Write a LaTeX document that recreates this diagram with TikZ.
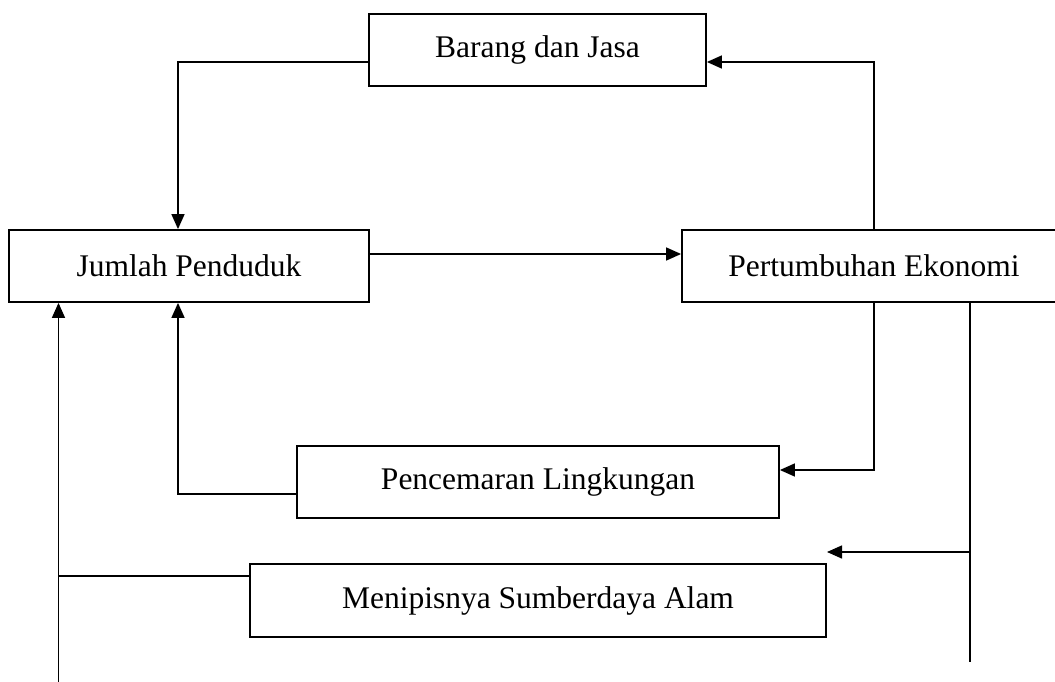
\documentclass[tikz,border=0pt]{standalone}
\usepackage{fontspec}
\setmainfont{Liberation Serif}
\usetikzlibrary{arrows.meta}
\begin{document}
\begin{tikzpicture}[x=1pt,y=-1pt,
  box/.style={draw,line width=1.8pt,inner sep=0pt,anchor=center,
    font=\fontsize{31.5}{36}\selectfont},
  conn/.style={line width=1.5pt},
  arr/.style={conn,-{Triangle[length=15pt,width=13pt]}}]
\path[use as bounding box] (0,0) rectangle (1055,682);
\clip (0,0) rectangle (1055,682);
\fill[white] (0,0) rectangle (1055,682);
\node[box,minimum width=337pt,minimum height=72pt] (B) at (537.5,50) {Barang dan Jasa};
\node[box,minimum width=360pt,minimum height=72pt] (J) at (189,266) {Jumlah Penduduk};
\node[box,minimum width=384pt,minimum height=72pt] (P) at (874,266) {Pertumbuhan Ekonomi};
\node[box,minimum width=482pt,minimum height=72pt] (C) at (538,482) {Pencemaran Lingkungan};
\node[box,minimum width=576pt,minimum height=73pt] (M) at (538,600.5) {Menipisnya Sumberdaya Alam};
\coordinate (Ptop2) at (970,302);
\coordinate (Pbot2) at (970,662);
\coordinate (Mtip) at (827,552);
\coordinate (Mbr) at (970,552);
\coordinate (Lbot) at (58.5,682);
\coordinate (Lj) at (58.5,576);
% Barang -> Jumlah
\draw[arr] ([yshift=-12pt]B.west) -| ([xshift=-11pt]J.north);
% Pertumbuhan -> Barang
\draw[arr] (P.north) |- ([yshift=-12pt]B.east);
% Jumlah -> Pertumbuhan
\draw[arr] ([yshift=12pt]J.east) -- ([yshift=12pt]P.west);
% Pertumbuhan -> Pencemaran
\draw[arr] (P.south) |- ([yshift=12pt]C.east);
% Pencemaran -> Jumlah
\draw[arr] ([yshift=-12pt]C.west) -| ([xshift=-11pt]J.south);
% Pertumbuhan -> Menipisnya
\draw[conn] (Ptop2) -- (Pbot2);
\draw[arr] (Mbr) -- (Mtip);
% Menipisnya -> Jumlah
\draw[conn] ([yshift=24.5pt]M.west) -- (Lj);
\draw[arr] (Lbot) -- (J.south west -| Lbot);
\end{tikzpicture}
\end{document}
